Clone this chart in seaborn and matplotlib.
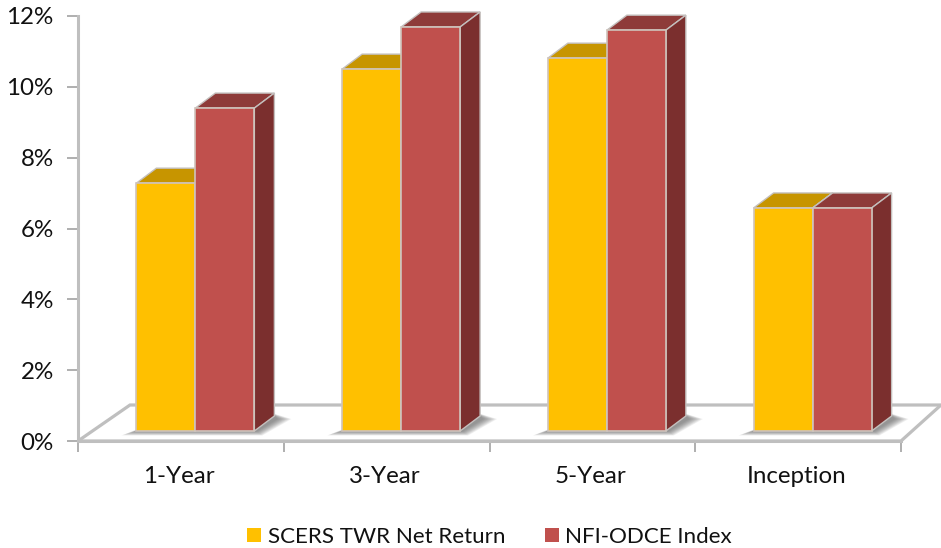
import matplotlib
matplotlib.use("Agg")
import matplotlib.pyplot as plt
from matplotlib.patches import Polygon, Patch
from matplotlib.ticker import FuncFormatter
from matplotlib.transforms import ScaledTranslation
import pandas as pd
import seaborn as sns

categories = ["1-Year", "3-Year", "5-Year", "Inception"]
scers_values = [7.28, 10.50, 10.81, 6.58]
nfi_values = [9.40, 11.69, 11.60, 6.58]
series_names = ["SCERS TWR Net Return", "NFI-ODCE Index"]

front_colors = ["#FFC000", "#C0504D"]
top_colors = ["#C79500", "#8E3B39"]
side_colors = ["#BF9000", "#7B2F2E"]

W, H = 941, 548
sns.set_theme(style="white")
plt.rcParams["font.family"] = ["Lato", "DejaVu Sans"]
fig = plt.figure(figsize=(W / 100, H / 100), dpi=100, facecolor="white")
ax = fig.add_axes([78 / W, 1 - 441 / H, (901 - 78) / W, (441 - 16) / H])

df = pd.DataFrame({
    "period": categories * 2,
    "value": scers_values + nfi_values,
    "series": [series_names[0]] * 4 + [series_names[1]] * 4,
})
sns.barplot(data=df, x="period", y="value", hue="series", order=categories,
            hue_order=series_names, palette=front_colors, width=0.5735, gap=0,
            saturation=1, ax=ax, legend=False)
ax.set_xlim(-0.5, 3.5)
ax.set_ylim(0, 12)
ax.set_xlabel("")
ax.set_ylabel("")

ux = 4 / (901 - 78)      # data units per pixel, x
uy = 12 / (441 - 16)     # data units per pixel, y
depth_x, depth_y = 20 * ux, 15 * uy
shift_x, base_y = 14.5 * ux, 10 * uy
GRID = "#BFBFBF"

# floor
floor_x, floor_y = 52 * ux, 36 * uy
for pts in [[(-0.5, 0), (-0.5 + floor_x, floor_y), (3.5 + 40 * ux, floor_y)],
            [(-0.5, 0), (3.5, 0), (3.5 + 40 * ux, floor_y)]]:
    ax.plot(*zip(*pts), color=GRID, lw=2.3, clip_on=False, zorder=1.2,
            solid_capstyle="butt", solid_joinstyle="miter")

for s, container in enumerate(ax.containers):
    for bar in container:
        top = bar.get_height()
        x0 = bar.get_x() + shift_x
        x1 = x0 + bar.get_width()
        bar.set_x(x0)
        bar.set_y(base_y)
        bar.set_height(top - base_y)
        bar.set_edgecolor("#CFC4BC")
        bar.set_linewidth(1.2)
        bar.set_zorder(4)
        bar.set_clip_on(False)
        ax.add_patch(Polygon([(x0, top), (x1, top), (x1 + depth_x, top + depth_y),
                              (x0 + depth_x, top + depth_y)], closed=True,
                             facecolor=top_colors[s], edgecolor="#C4C0BE", lw=1.0,
                             clip_on=False, zorder=3))
        ax.add_patch(Polygon([(x1, base_y), (x1 + depth_x, base_y + depth_y),
                              (x1 + depth_x, top + depth_y), (x1, top)], closed=True,
                             facecolor=side_colors[s], edgecolor="#C4C0BE", lw=1.0,
                             clip_on=False, zorder=3))

# soft shadows under each pair of bars
left_bars, right_bars = ax.containers
for lb, rb in zip(left_bars, right_bars):
    l = lb.get_x()
    r = rb.get_x() + rb.get_width()
    for k in range(10):
        g = (10 - k) * 1.5
        ax.add_patch(Polygon([(l - g * ux, base_y - g * 0.3 * uy),
                              (r + (2 + g * 0.4) * ux, base_y - g * 0.3 * uy),
                              (r + depth_x + (2 + g) * ux, base_y + depth_y - 3 * uy),
                              (r + depth_x, base_y + depth_y + g * 0.15 * uy),
                              (l + 14 * ux, base_y + (4 + g * 0.2) * uy)], closed=True,
                             facecolor="#555555", edgecolor="none", alpha=0.085,
                             clip_on=False, zorder=1.5))

# axes
sns.despine(ax=ax, top=True, right=True)
for name in ("left", "bottom"):
    ax.spines[name].set_color(GRID)
    ax.spines[name].set_linewidth(2.2)
ax.set_yticks(range(0, 13, 2))
ax.yaxis.set_major_formatter(FuncFormatter(lambda v, _: f"{int(v)}%"))
ax.set_xticks(range(4))
ax.set_xticklabels(categories)
ax.set_xticks([-0.5, 0.5, 1.5, 2.5, 3.5], minor=True)
ax.tick_params(axis="x", which="major", length=0, pad=18, labelsize=17.4, labelcolor="#111111")
ax.tick_params(axis="x", which="minor", length=8, width=1.1, color="#9A9A9A", bottom=True)
ax.tick_params(axis="y", length=8, width=1.1, color="#9A9A9A", left=True, pad=9.5,
               labelsize=17.4, labelcolor="#111111")
for lab in ax.get_xticklabels():
    lab.set_transform(lab.get_transform() + ScaledTranslation(-2 / 100, 0, fig.dpi_scale_trans))

handles = [Patch(facecolor=c, edgecolor="none") for c in front_colors]
fig.legend(handles, series_names, loc="center", bbox_to_anchor=(489.5 / W, 1 - 537 / H),
           ncol=2, frameon=False, fontsize=16.1, handlelength=0.63, handleheight=0.63,
           handletextpad=0.3, columnspacing=1.75, labelcolor="#111111",
           borderpad=0, borderaxespad=0)

fig.savefig("out.png", dpi=100, facecolor="white")
